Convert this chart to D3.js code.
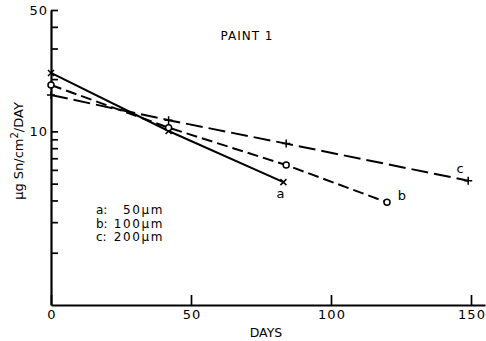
<!DOCTYPE html>
<html>
<head>
<meta charset="utf-8">
<script src="https://cdn.jsdelivr.net/npm/d3@7"></script>
<style>
  body { margin: 0; background: #fff; }
  svg { display: block; }
  text { font-family: "DejaVu Sans", sans-serif; fill: #000; }
</style>
</head>
<body>
<svg id="chart" width="486" height="341"></svg>
<script>
// ---- data ----
const seriesNames = ["a", "b", "c"];
const legendLabels = ["a:", "b:", "c:"];
const legendSizes = ["50\u03bcm", "100\u03bcm", "200\u03bcm"];
const daysA = [0, 42, 83];
const valuesA = [21.7, 10.05, 5.1];
const daysB = [0, 42, 84, 120];
const valuesB = [18.5, 10.5, 6.4, 3.9];
const daysC = [0, 42, 84, 149];
const valuesC = [16.2, 11.6, 8.5, 5.2];
const xTicks = [0, 50, 100, 150];
const yTicks = [2, 3, 4, 5, 6, 7, 8, 9, 10, 20, 30, 40, 50];
const yLabelled = [10, 50];

const svg = d3.select("#chart");
const x = d3.scaleLinear().domain([0, 155]).range([51, 485]);
const y = d3.scaleLog().domain([1, 50]).range([305, 10]);

// axes
const yAxis = d3.axisLeft(y).tickValues(yTicks).tickSize(-7).tickSizeOuter(0).tickPadding(3)
  .tickFormat(d => yLabelled.includes(d) ? String(d) : "");
const gy = svg.append("g").attr("transform", `translate(${x(0)},0)`).call(yAxis);
gy.selectAll("text").style("font-size", "13px").attr("font-family", null).attr("letter-spacing", "1");
gy.selectAll("line").attr("stroke", "#000").attr("stroke-width", 1.7);
gy.select(".domain").attr("stroke", "#000").attr("stroke-width", 2.2);

const xAxis = d3.axisBottom(x).tickValues(xTicks).tickSize(-10).tickSizeOuter(0).tickPadding(5)
  .tickFormat(d => String(d));
const gx = svg.append("g").attr("transform", `translate(0,${y(1)})`).call(xAxis);
gx.selectAll("text").style("font-size", "13px").attr("font-family", null).attr("letter-spacing", "1").attr("dx", "0.5");
gx.selectAll("line").attr("stroke", "#000").attr("stroke-width", 1.7);
gx.select(".domain").attr("stroke", "#000").attr("stroke-width", 2.2);

// axis titles
svg.append("text").attr("x", 266).attr("y", 337).attr("text-anchor", "middle")
  .style("font-size", "12.5px").text("DAYS");
const yt = svg.append("text").attr("transform", "translate(23,151) rotate(-90)")
  .attr("text-anchor", "middle").style("font-size", "13px");
yt.append("tspan").text("\u03bcg Sn/cm");
yt.append("tspan").attr("dy", "-5").style("font-size", "10px").text("2");
yt.append("tspan").attr("dy", "5").text("/DAY");

// title
svg.append("text").attr("x", 247).attr("y", 40).attr("text-anchor", "middle")
  .style("font-size", "12px").attr("letter-spacing", "1").text("PAINT 1");

// series
const series = [
  { name: seriesNames[0], days: daysA, vals: valuesA, dash: null, marker: "x" },
  { name: seriesNames[1], days: daysB, vals: valuesB, dash: "11,5", marker: "o" },
  { name: seriesNames[2], days: daysC, vals: valuesC, dash: "17,6", marker: "+" }
];
const line = d3.line().x(d => x(d[0])).y(d => y(d[1]));

series.forEach(s => {
  const pts = s.days.map((d, i) => [d, s.vals[i]]);
  svg.append("path").datum(pts).attr("d", line)
    .attr("fill", "none").attr("stroke", "#000").attr("stroke-width", 2)
    .attr("stroke-dasharray", s.dash);
  const g = svg.append("g");
  pts.forEach(p => {
    const cx = x(p[0]), cy = y(p[1]);
    if (s.marker === "o") {
      g.append("circle").attr("cx", cx).attr("cy", cy).attr("r", 3)
        .attr("fill", "#fff").attr("stroke", "#000").attr("stroke-width", 1.5);
    } else if (s.marker === "x") {
      const r = 3;
      g.append("path").attr("d", `M${cx - r},${cy - r}L${cx + r},${cy + r}M${cx - r},${cy + r}L${cx + r},${cy - r}`)
        .attr("stroke", "#000").attr("stroke-width", 1.5);
    } else {
      const r = 4;
      g.append("path").attr("d", `M${cx - r},${cy}L${cx + r},${cy}M${cx},${cy - r}L${cx},${cy + r}`)
        .attr("stroke", "#000").attr("stroke-width", 1.5);
    }
  });
  // end label
  const last = pts[pts.length - 1];
  let lx, ly;
  if (s.name === "a") { lx = x(last[0]) - 3; ly = y(last[1]) + 16; }
  else if (s.name === "b") { lx = x(last[0]) + 15; ly = y(last[1]) - 2; }
  else { lx = x(last[0]) - 8; ly = y(last[1]) - 8; }
  svg.append("text").attr("x", lx).attr("y", ly).attr("text-anchor", "middle")
    .style("font-size", "13px").text(s.name);
});

// legend
legendLabels.forEach((lab, i) => {
  const by = 214 + i * 13.5;
  svg.append("text").attr("x", 96).attr("y", by).style("font-size", "12px").text(lab);
  svg.append("text").attr("x", 164).attr("y", by).attr("text-anchor", "end")
    .style("font-size", "12px").attr("letter-spacing", "1.6").text(legendSizes[i]);
});
</script>
</body>
</html>
